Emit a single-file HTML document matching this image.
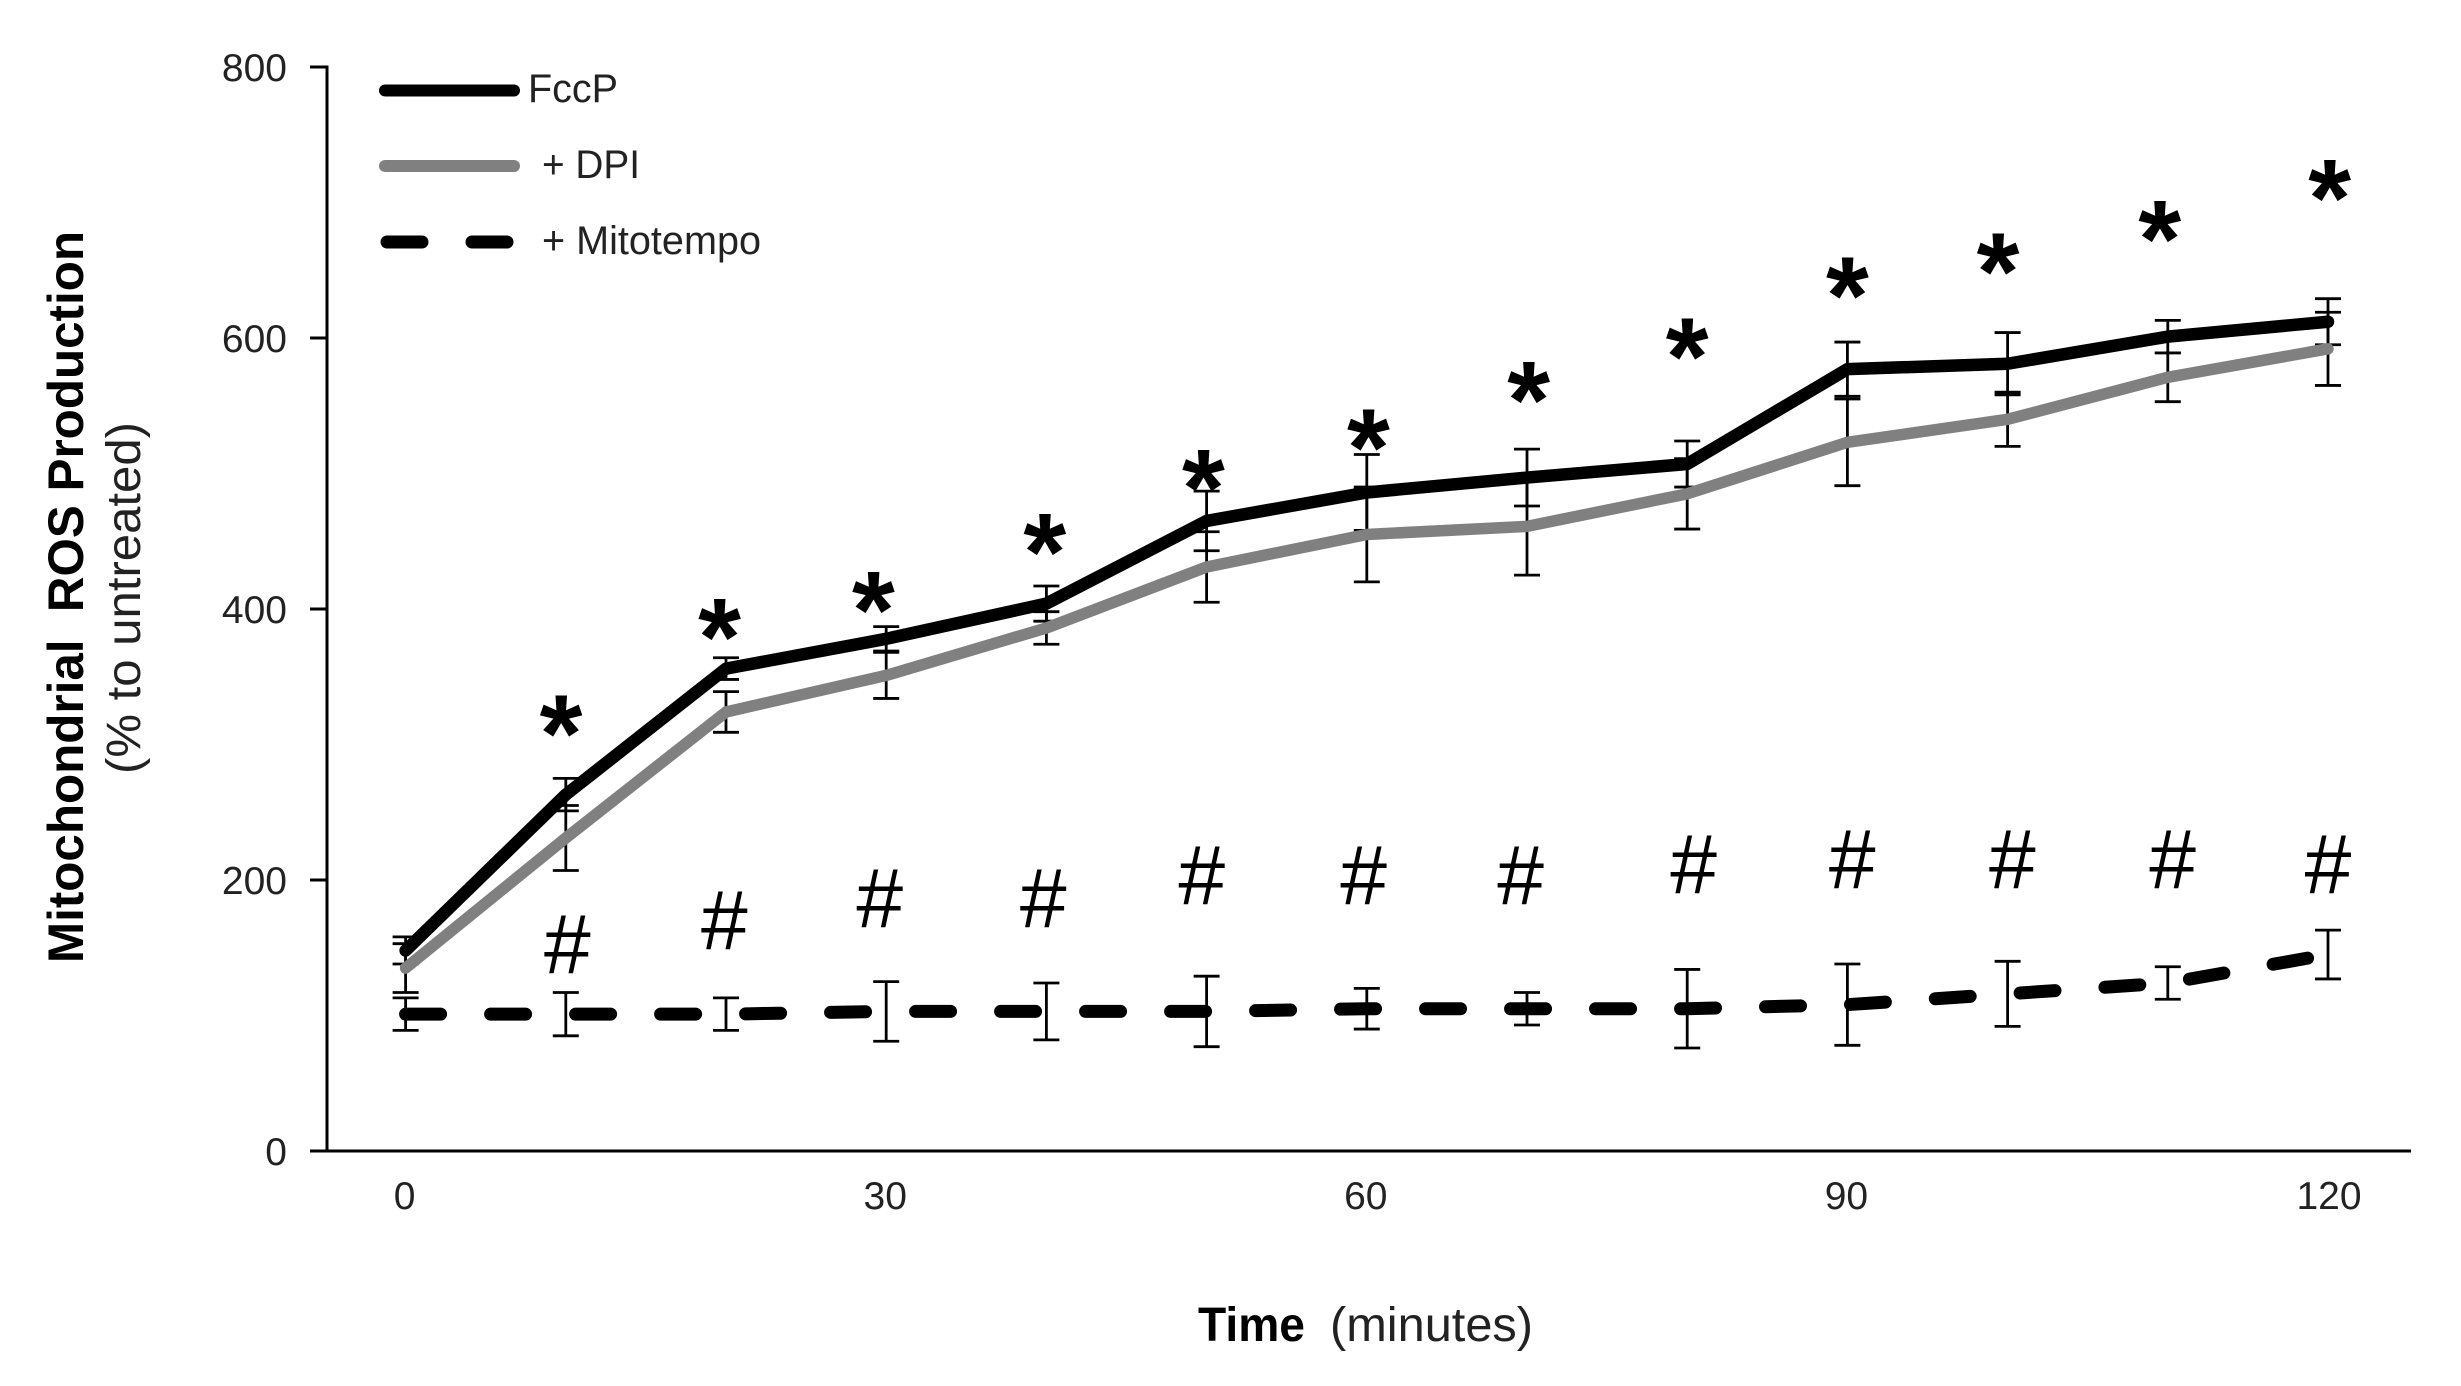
<!DOCTYPE html>
<html lang="en">
<head>
<meta charset="utf-8">
<title>Mitochondrial ROS Production</title>
<style>
html,body{margin:0;padding:0;background:#fff;}
body{width:2461px;height:1386px;overflow:hidden;}
svg{display:block;font-family:"Liberation Sans",Arial,sans-serif;}
</style>
</head>
<body>
<svg id="chart" xmlns="http://www.w3.org/2000/svg" width="2461" height="1386" viewBox="0 0 2461 1386">
  <rect x="0" y="0" width="2461" height="1386" fill="#fff"/>
  <g id="axes"></g>
  <g id="errorbars"></g>
  <g id="lines"></g>
  <g id="annotations"></g>

  <g>
    <line x1="385" y1="90.5" x2="514" y2="90.5" stroke="#000" stroke-width="12" stroke-linecap="round"/>
    <text x="528" y="102" font-size="40" fill="#222" textLength="90" lengthAdjust="spacingAndGlyphs">FccP</text>
    <line x1="385" y1="166" x2="514" y2="166" stroke="#808080" stroke-width="12" stroke-linecap="round"/>
    <text x="542" y="178" font-size="40" fill="#222" textLength="98" lengthAdjust="spacingAndGlyphs">+ DPI</text>
    <line x1="387" y1="242" x2="422" y2="242" stroke="#000" stroke-width="13" stroke-linecap="round"/>
    <line x1="472" y1="242" x2="507" y2="242" stroke="#000" stroke-width="13" stroke-linecap="round"/>
    <text x="542" y="254" font-size="40" fill="#222" textLength="219" lengthAdjust="spacingAndGlyphs">+ Mitotempo</text>
  </g>

  <text x="1198" y="1341" font-size="48" font-weight="bold" fill="#000" textLength="107" lengthAdjust="spacingAndGlyphs">Time</text>
  <text x="1330" y="1341" font-size="48" fill="#222" textLength="203" lengthAdjust="spacingAndGlyphs">(minutes)</text>
  <text transform="translate(83,963) rotate(-90)" font-size="50" font-weight="bold" fill="#000" textLength="732" lengthAdjust="spacingAndGlyphs" xml:space="preserve">Mitochondrial  ROS Production</text>
  <text transform="translate(140,774) rotate(-90)" font-size="48" fill="#222" textLength="352" lengthAdjust="spacingAndGlyphs">(% to untreated)</text>
</svg>

<script>
var times = [0,10,20,30,40,50,60,70,80,90,100,110,120];
var fccpValues = [148,263,356,378,404,465,486,497,507,577,581,601,612];
var fccpErrors = [10,12,8,9,13,22,28,21,17,20,23,12,17];
var dpiValues = [135,231,324,351,386,431,455,461,485,523,540,571,592];
var dpiErrors = [18,24,15,17,12,26,35,36,26,32,20,18,27];
var mitoValues = [101,101,101,103,103,103,105,105,105,108,116,124,145];
var mitoErrors = [12,16,12,22,21,26,15,12,29,30,24,12,18];
var yTicks = [0,200,400,600,800];
var xTicks = [0,30,60,90,120];
var starTimes = [9.7,19.6,29.2,39.9,49.8,60.1,70.1,80,90,99.4,109.5,120.1];
var starLevels = [320,391,411,454,501,531,566,598,643,661,685,715];
var hashTimes = [10.1,19.9,29.6,39.8,49.7,59.8,69.6,80.4,90.3,100.3,110.3,120];
var hashLevels = [153,171,187,187,204,204,204,212,216,216,216,212];

var NS = 'http://www.w3.org/2000/svg';
function xScale(t){ return 405.6 + t * 16.02; }
function yScale(v){ return 1151 - v * 1.355; }
function make(tag, parent){
  var el = document.createElementNS(NS, tag);
  parent.appendChild(el);
  return el;
}
function setLine(el, x1, y1, x2, y2, color, width){
  el.setAttribute('x1', x1);
  el.setAttribute('y1', y1);
  el.setAttribute('x2', x2);
  el.setAttribute('y2', y2);
  el.setAttribute('stroke', color);
  el.setAttribute('stroke-width', width);
}

var axes = document.getElementById('axes');
var yAxis = make('line', axes);


setLine(yAxis, 327, yScale(800) - 1.5, 327, yScale(0) + 1.5, '#000', 3);
var xAxis = make('line', axes);


setLine(xAxis, 327, yScale(0), 2411, yScale(0), '#000', 3);

yTicks.forEach(function(v){
  var tick = make('line', axes);
  
  
  setLine(tick, 310, yScale(v), 327, yScale(v), '#000', 3);
  var label = make('text', axes);
  
  
  label.setAttribute('x', 287);
  label.setAttribute('y', yScale(v) + 14);
  label.setAttribute('text-anchor', 'end');
  label.setAttribute('font-size', '39');
  label.setAttribute('fill', '#222');
  label.textContent = v;
});
xTicks.forEach(function(t){
  var label = make('text', axes);
  
  
  label.setAttribute('x', xScale(t) - 1 + (t === 120 ? 2 : 0));
  label.setAttribute('y', 1209);
  label.setAttribute('text-anchor', 'middle');
  label.setAttribute('font-size', '39');
  label.setAttribute('fill', '#222');
  label.textContent = t;
});

var errorGroup = document.getElementById('errorbars');
function drawErrors(values, errors, seriesName){
  values.forEach(function(v, i){
    var x = xScale(times[i]);
    var top = yScale(v + errors[i]);
    var bottom = yScale(v - errors[i]);
    var stem = make('line', errorGroup);
    
    
    setLine(stem, x, top, x, bottom, '#000', 2.8);
    var capTop = make('line', errorGroup);
    
    
    setLine(capTop, x - 13, top, x + 13, top, '#000', 2.8);
    var capBottom = make('line', errorGroup);
    
    
    setLine(capBottom, x - 13, bottom, x + 13, bottom, '#000', 2.8);
  });
}
drawErrors(fccpValues, fccpErrors, 'fccp');
drawErrors(dpiValues, dpiErrors, 'dpi');
drawErrors(mitoValues, mitoErrors, 'mitotempo');

var lineGroup = document.getElementById('lines');
function pointsFor(values){
  return values.map(function(v, i){ return xScale(times[i]) + ',' + yScale(v); }).join(' ');
}
var mitoLine = make('polyline', lineGroup);


mitoLine.setAttribute('points', pointsFor(mitoValues));
mitoLine.setAttribute('fill', 'none');
mitoLine.setAttribute('stroke', '#000');
mitoLine.setAttribute('stroke-width', '13');
mitoLine.setAttribute('stroke-linecap', 'round');
mitoLine.setAttribute('stroke-dasharray', '35 50');
var dpiLine = make('polyline', lineGroup);


dpiLine.setAttribute('points', pointsFor(dpiValues));
dpiLine.setAttribute('fill', 'none');
dpiLine.setAttribute('stroke', '#808080');
dpiLine.setAttribute('stroke-width', '11.5');
dpiLine.setAttribute('stroke-linejoin', 'round');
dpiLine.setAttribute('stroke-linecap', 'round');
var fccpLine = make('polyline', lineGroup);


fccpLine.setAttribute('points', pointsFor(fccpValues));
fccpLine.setAttribute('fill', 'none');
fccpLine.setAttribute('stroke', '#000');
fccpLine.setAttribute('stroke-width', '12.5');
fccpLine.setAttribute('stroke-linejoin', 'round');
fccpLine.setAttribute('stroke-linecap', 'round');

var noteGroup = document.getElementById('annotations');
starTimes.forEach(function(t, i){
  var star = make('text', noteGroup);
  
  
  star.setAttribute('x', xScale(t));
  star.setAttribute('y', yScale(starLevels[i]) + 54);
  star.setAttribute('text-anchor', 'middle');
  star.setAttribute('font-size', '110');
  star.setAttribute('font-weight', 'bold');
  star.setAttribute('fill', '#000');
  star.textContent = '*';
});
hashTimes.forEach(function(t, i){
  var hash = make('text', noteGroup);
  
  
  hash.setAttribute('x', xScale(t));
  hash.setAttribute('y', yScale(hashLevels[i]) + 30);
  hash.setAttribute('text-anchor', 'middle');
  hash.setAttribute('font-size', '84');
  hash.setAttribute('fill', '#000');
  hash.textContent = '#';
});
</script>
</body>
</html>
